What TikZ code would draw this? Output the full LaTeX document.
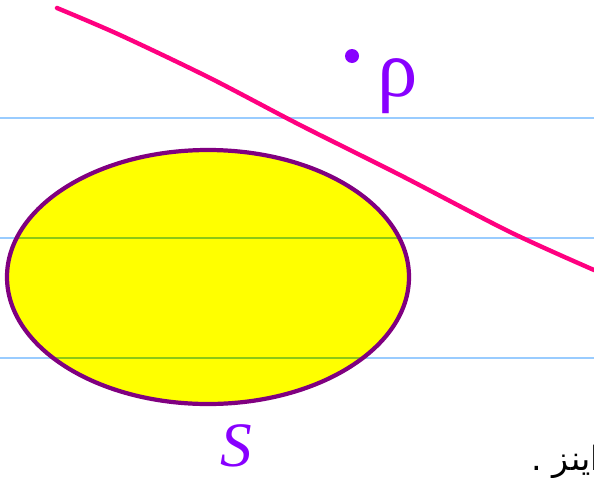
\documentclass[tikz,border=0pt]{standalone}
\usepackage{fontspec}
\TeXXeTstate=1
\newfontfamily\arabicfont[Script=Arabic]{DejaVu Sans}
\newfontfamily\handfont{Liberation Serif}
\definecolor{rulecol}{RGB}{153,204,255}
\definecolor{rulegreen}{RGB}{140,200,20}
\definecolor{setyellow}{RGB}{255,255,0}
\definecolor{setpurple}{RGB}{128,0,128}
\definecolor{penviolet}{RGB}{136,0,255}
\definecolor{penpink}{RGB}{255,0,128}

\begin{document}
\begin{tikzpicture}[x=0.02cm, y=-0.02cm]
  \useasboundingbox (0,0) rectangle (594,477);
  % Notebook rules
  \foreach \y in {118,238,358}
      \draw[rulecol, line width=0.8pt] (0,\y) -- (594,\y);
  % Yellow set
  \fill[setyellow] (208,277) ellipse [x radius=201, y radius=127];
  \begin{scope}
    \clip (208,277) ellipse [x radius=201, y radius=127];
    \foreach \y in {238,358}
        \draw[rulegreen, line width=0.8pt] (0,\y) -- (594,\y);
  \end{scope}
  \draw[setpurple, line width=2.4pt] (208,277) ellipse [x radius=201, y radius=127];
  % Pink line
  \draw[penpink, line width=2.5pt, line cap=round]
      plot[smooth] coordinates {(57,8) (120,35) (210,78) (300,125) (400,175) (510,232) (594,270)};
  % Point and its label
  \fill[penviolet] (352,56) circle (0.14cm);
  \node[penviolet, font=\handfont\fontsize{46}{46}\selectfont] (rho) at (398,86) {ρ};
  \node[penviolet, inner sep=0pt, font=\handfont\itshape\fontsize{36}{36}\selectfont] (setname) at (236,446) {S};
  % Margin note
  \node[anchor=east, font=\arabicfont\fontsize{19}{19}\selectfont] (note) at (606,462) {\beginR اینز .\endR};
\end{tikzpicture}
\end{document}
